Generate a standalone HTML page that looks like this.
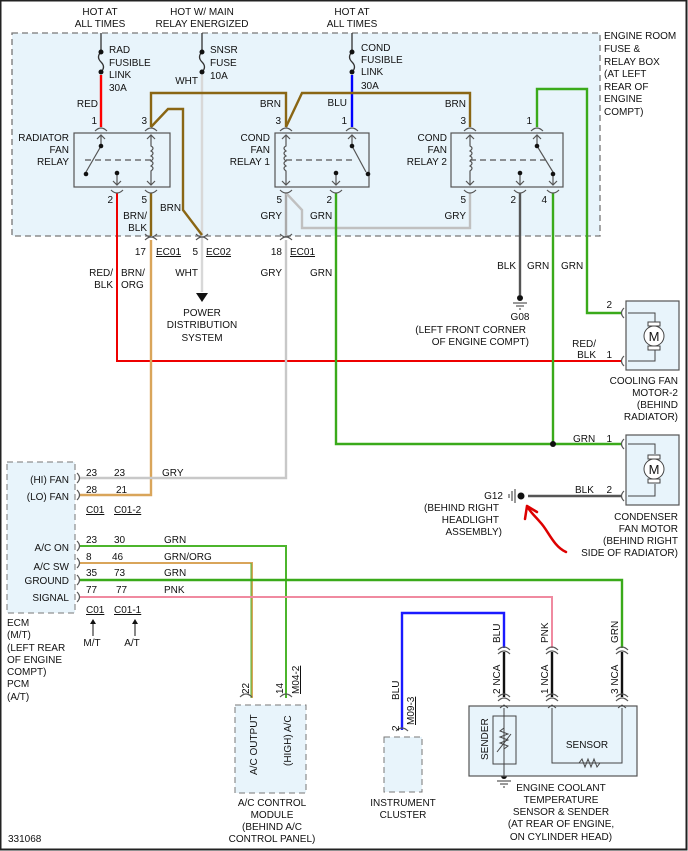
<!DOCTYPE html>
<html><head><meta charset="utf-8"><style>
html,body{margin:0;padding:0;background:#fff}
svg{display:block}
text{font-family:"Liberation Sans",Arial,sans-serif;font-size:10px;fill:#111}
.m{text-anchor:middle}.e{text-anchor:end}
</style></head><body>
<svg width="688" height="851" viewBox="0 0 688 851" xmlns="http://www.w3.org/2000/svg">
<rect x="0.5" y="0.5" width="686" height="849" fill="#fff" stroke="#222" stroke-width="2"/>
<!-- fuse box -->
<rect x="12" y="33" width="588" height="203" fill="#e8f4fb" stroke="#777" stroke-width="1.3" stroke-dasharray="6,4"/>
<g fill="none" stroke-width="2.4">
<!-- red -->
<path d="M101 75V127" stroke="#f00"/>
<path d="M117 193V361H622" stroke="#e00" stroke-width="2"/>
<!-- fuse lines -->
<path d="M101 33V52M101 52q-5 5 0 10q5 5 0 10" stroke="#333" stroke-width="1.3"/>
<path d="M202 33V52M202 52q-5 5 0 10q5 5 0 10" stroke="#333" stroke-width="1.3"/>
<path d="M352 33V52M352 52q-5 5 0 10q5 5 0 10" stroke="#333" stroke-width="1.3"/>
<!-- WHT -->
<path d="M202 75V292" stroke="#d8d8d8"/>
<!-- BLU -->
<path d="M352 75V127" stroke="#00f"/>
<!-- brown -->
<path d="M151 127V93H286V127" stroke="#8a6614"/>
<path d="M286 127L302 93H470V127" stroke="#8a6614"/>
<path d="M151 127L168 109H183V210L202 235" stroke="#8a6614"/>
<path d="M151 193V236" stroke="#8a6614"/>
<path d="M151 240V495H80" stroke="#d9a55a"/>
<!-- gray -->
<path d="M286 193V236" stroke="#aaa"/>
<path d="M286 240V478H80" stroke="#c8c8c8"/>
<path d="M286 193L302 210V228H470V193" stroke="#c0c0c0"/>
<!-- green -->
<path d="M336 193V444H622" stroke="#3aaa1a"/>
<path d="M537 127V89H587V313H622" stroke="#3aaa1a"/>
<path d="M553 193V444" stroke="#3aaa1a"/>
<path d="M80 546H286V698" stroke="#4cb52c" stroke-width="2"/>
<path d="M80 563H252V698" stroke="#d9a55a" stroke-width="2"/>
<path d="M251 563V698" stroke="#4cb52c" stroke-width="1"/>
<path d="M80 580H622V648" stroke="#3aaa1a"/>
<path d="M80 597H552V648" stroke="#f08aa0" stroke-width="2"/>
<!-- black -->
<path d="M520 193V295" stroke="#555"/>
<path d="M528 496H622" stroke="#555"/>
<!-- blue low -->
<path d="M402 730V613H504V648" stroke="#1a1aff"/>
<path d="M504 652V697M552 652V697M622 652V697" stroke="#111"/>
</g>
<!-- fuse dots -->
<g fill="#111"><circle cx="101" cy="52" r="2.5"/><circle cx="101" cy="72" r="2.5"/><circle cx="202" cy="52" r="2.5"/><circle cx="202" cy="72" r="2.5"/><circle cx="352" cy="52" r="2.5"/><circle cx="352" cy="72" r="2.5"/>
<circle cx="553" cy="444" r="3"/><circle cx="520" cy="298" r="3"/><circle cx="521" cy="496" r="3.5"/><circle cx="504" cy="776" r="3"/></g>
<polygon points="196,293 208,293 202,302" fill="#111"/>
<!-- relays -->
<g fill="none" stroke="#555" stroke-width="1.2">
<rect x="74" y="133" width="96" height="54"/>
<rect x="275" y="133" width="94" height="54"/>
<rect x="451" y="133" width="112" height="54"/>
<path d="M85 160H151M286 160H352M470 160H553" stroke-dasharray="6,4"/>
<!-- coils -->
<path d="M151 135V146q4 2 0 5q4 2 0 5q4 2 0 5q4 2 0 5q4 2 0 5V185"/>
<path d="M286 135V146q-4 2 0 5q-4 2 0 5q-4 2 0 5q-4 2 0 5q-4 2 0 5V185"/>
<path d="M470 135V146q4 2 0 5q4 2 0 5q4 2 0 5q4 2 0 5q4 2 0 5V185"/>
<!-- switches -->
<path d="M101 135V146L86 172M117 173V185M352 135V146L366 172M336 173V185M537 135V146L553 172V185M520 173V185"/>
<!-- arrows -->
<path d="M97 139l4-4 4 4M147 139l4-4 4 4M147 181l4 4 4-4M113 181l4 4 4-4M282 139l4-4 4 4M282 181l4 4 4-4M348 139l4-4 4 4M332 181l4 4 4-4M466 139l4-4 4 4M466 181l4 4 4-4M533 139l4-4 4 4M516 181l4 4 4-4M549 181l4 4 4-4"/>
<!-- connector arcs -->
<path d="M95 131q6-6 12 0M145 131q6-6 12 0M280 131q6-6 12 0M346 131q6-6 12 0M464 131q6-6 12 0M531 131q6-6 12 0
M111 190q6 6 12 0M145 190q6 6 12 0M280 190q6 6 12 0M330 190q6 6 12 0M464 190q6 6 12 0M514 190q6 6 12 0M547 190q6 6 12 0
M145 234q6 6 12 0M196 234q6 6 12 0M280 234q6 6 12 0"/>
<path d="M145 240q6-6 12 0M196 240q6-6 12 0M280 240q6-6 12 0M240 697q6-6 12 0M280 697q6-6 12 0M396 731q6-6 12 0
M498 650q6-6 12 0M546 650q6-6 12 0M616 650q6-6 12 0M498 654q6-6 12 0M546 654q6-6 12 0M616 654q6-6 12 0
M498 697q6-6 12 0M546 697q6-6 12 0M616 697q6-6 12 0M498 701q6-6 12 0M546 701q6-6 12 0M616 701q6-6 12 0"/>
<!-- ECM pin brackets -->
<path d="M77 473q5 5 0 10M77 490q5 5 0 10M77 541q5 5 0 10M77 558q5 5 0 10M77 575q5 5 0 10M77 592q5 5 0 10"/>
<!-- motor pins -->
<path d="M624 308q-5 5 0 10M624 356q-5 5 0 10M624 439q-5 5 0 10M624 491q-5 5 0 10"/>
</g>
<g fill="#111"><circle cx="101" cy="146" r="2.3"/><circle cx="86" cy="174" r="2.3"/><circle cx="117" cy="173" r="2.3"/><circle cx="352" cy="146" r="2.3"/><circle cx="368" cy="174" r="2.3"/><circle cx="336" cy="173" r="2.3"/><circle cx="537" cy="146" r="2.3"/><circle cx="553" cy="174" r="2.3"/><circle cx="520" cy="173" r="2.3"/></g>
<!-- grounds -->
<path d="M513 303h14M516 306h8M519 309h2" stroke="#333" fill="none"/>
<path d="M515 489v14M512 491v10M509 494v4" stroke="#333" fill="none"/>
<path d="M497 781h14M500 784h8M503 787h2" stroke="#333" fill="none"/>
<!-- motors -->
<g fill="#e8f4fb" stroke="#555" stroke-width="1.2">
<rect x="626" y="301" width="53" height="69"/>
<rect x="626" y="435" width="53" height="70"/>
</g>
<g fill="none" stroke="#444" stroke-width="1">
<path d="M628 313H655V323M628 361H655V350M628 444H655V454M628 496H655V484"/>
<circle cx="654" cy="336" r="10" fill="#fff"/><circle cx="654" cy="469" r="10" fill="#fff"/>
<rect x="648" y="322" width="12" height="4" fill="#fff"/><rect x="648" y="346" width="12" height="4" fill="#fff"/>
<rect x="648" y="455" width="12" height="4" fill="#fff"/><rect x="648" y="479" width="12" height="4" fill="#fff"/>
</g>
<text x="654" y="341" class="m" style="font-size:13px">M</text>
<text x="654" y="474" class="m" style="font-size:13px">M</text>
<!-- red hand arrow -->
<path d="M566 552C553 546 548 530 540 522C535 516 530 512 527 506M527 506L525 519M527 506L537 512" fill="none" stroke="#d00" stroke-width="2.5" stroke-linecap="round"/>
<!-- ECM -->
<rect x="7" y="462" width="68" height="151" fill="#e8f4fb" stroke="#777" stroke-dasharray="6,4"/>
<!-- A/C module -->
<rect x="235" y="705" width="71" height="88" fill="#e8f4fb" stroke="#777" stroke-dasharray="6,4"/>
<!-- cluster -->
<rect x="384" y="737" width="38" height="55" fill="#e8f4fb" stroke="#777" stroke-dasharray="6,4"/>
<!-- ECT -->
<rect x="469" y="706" width="168" height="70" fill="#e8f4fb" stroke="#555" stroke-width="1.2"/>
<g fill="none" stroke="#444" stroke-width="1">
<rect x="493" y="716" width="23" height="48"/>
<path d="M504 708V776M552 708V763H622V708M579 763l3-4 3 8 3-8 3 8 3-8 3 8 3-4"/>
<path d="M500 708l4-3 4 3M548 708l4-3 4 3M618 708l4-3 4 3"/>
<path d="M504 728l-4 3 8 3-8 3 8 3-8 3 8 3-4 3M497 752l14-18"/>
</g>
<!-- TEXT -->
<text x="100" y="15" class="m">HOT AT</text><text x="100" y="27" class="m">ALL TIMES</text>
<text x="202" y="15" class="m">HOT W/ MAIN</text><text x="202" y="27" class="m">RELAY ENERGIZED</text>
<text x="352" y="15" class="m">HOT AT</text><text x="352" y="27" class="m">ALL TIMES</text>
<text x="109" y="53">RAD</text><text x="109" y="66">FUSIBLE</text><text x="109" y="78">LINK</text><text x="109" y="91">30A</text>
<text x="210" y="53">SNSR</text><text x="210" y="66">FUSE</text><text x="210" y="79">10A</text><text x="198" y="84" class="e">WHT</text>
<text x="361" y="51">COND</text><text x="361" y="63">FUSIBLE</text><text x="361" y="75">LINK</text><text x="361" y="89">30A</text>
<text x="604" y="39">ENGINE ROOM</text><text x="604" y="52">FUSE &amp;</text><text x="604" y="65">RELAY BOX</text><text x="604" y="77">(AT LEFT</text><text x="604" y="90">REAR OF</text><text x="604" y="102">ENGINE</text><text x="604" y="115">COMPT)</text>
<text x="98" y="107" class="e">RED</text><text x="97" y="124" class="e">1</text><text x="147" y="124" class="e">3</text>
<text x="281" y="107" class="e">BRN</text><text x="281" y="124" class="e">3</text>
<text x="347" y="106" class="e">BLU</text><text x="347" y="124" class="e">1</text>
<text x="466" y="107" class="e">BRN</text><text x="466" y="124" class="e">3</text><text x="532" y="124" class="e">1</text>
<text x="69" y="141" class="e">RADIATOR</text><text x="69" y="153" class="e">FAN</text><text x="69" y="165" class="e">RELAY</text>
<text x="270" y="141" class="e">COND</text><text x="270" y="153" class="e">FAN</text><text x="270" y="165" class="e">RELAY 1</text>
<text x="447" y="141" class="e">COND</text><text x="447" y="153" class="e">FAN</text><text x="447" y="165" class="e">RELAY 2</text>
<text x="113" y="203" class="e">2</text><text x="147" y="203" class="e">5</text><text x="282" y="203" class="e">5</text><text x="332" y="203" class="e">2</text>
<text x="466" y="203" class="e">5</text><text x="516" y="203" class="e">2</text><text x="547" y="203" class="e">4</text>
<text x="147" y="219" class="e">BRN/</text><text x="147" y="231" class="e">BLK</text><text x="160" y="211">BRN</text>
<text x="282" y="219" class="e">GRY</text><text x="310" y="219">GRN</text><text x="466" y="219" class="e">GRY</text>
<text x="146" y="255" class="e">17</text><text x="156" y="255" style="text-decoration:underline">EC01</text>
<text x="198" y="255" class="e">5</text><text x="206" y="255" style="text-decoration:underline">EC02</text>
<text x="282" y="255" class="e">18</text><text x="290" y="255" style="text-decoration:underline">EC01</text>
<text x="113" y="276" class="e">RED/</text><text x="113" y="288" class="e">BLK</text>
<text x="121" y="276">BRN/</text><text x="121" y="288">ORG</text>
<text x="198" y="276" class="e">WHT</text><text x="282" y="276" class="e">GRY</text><text x="310" y="276">GRN</text>
<text x="516" y="269" class="e">BLK</text><text x="527" y="269">GRN</text><text x="561" y="269">GRN</text>
<text x="202" y="316" class="m">POWER</text><text x="202" y="328" class="m">DISTRIBUTION</text><text x="202" y="341" class="m">SYSTEM</text>
<text x="520" y="320" class="m">G08</text><text x="526" y="333" class="e">(LEFT FRONT CORNER</text><text x="529" y="345" class="e">OF ENGINE COMPT)</text>
<text x="612" y="308" class="e">2</text><text x="596" y="347" class="e">RED/</text><text x="596" y="358" class="e">BLK</text><text x="612" y="358" class="e">1</text>
<text x="678" y="384" class="e">COOLING FAN</text><text x="678" y="396" class="e">MOTOR-2</text><text x="678" y="408" class="e">(BEHIND</text><text x="678" y="420" class="e">RADIATOR)</text>
<text x="573" y="442">GRN</text><text x="612" y="442" class="e">1</text>
<text x="575" y="493">BLK</text><text x="612" y="493" class="e">2</text>
<text x="503" y="499" class="e">G12</text><text x="499" y="511" class="e">(BEHIND RIGHT</text><text x="499" y="523" class="e">HEADLIGHT</text><text x="502" y="535" class="e">ASSEMBLY)</text>
<text x="678" y="520" class="e">CONDENSER</text><text x="678" y="532" class="e">FAN MOTOR</text><text x="678" y="544" class="e">(BEHIND RIGHT</text><text x="678" y="556" class="e">SIDE OF RADIATOR)</text>
<text x="69" y="483" class="e">(HI) FAN</text><text x="69" y="500" class="e">(LO) FAN</text>
<text x="69" y="551" class="e">A/C ON</text><text x="69" y="570" class="e">A/C SW</text><text x="69" y="584" class="e">GROUND</text><text x="69" y="601" class="e">SIGNAL</text>
<text x="86" y="476">23</text><text x="114" y="476">23</text><text x="162" y="476">GRY</text>
<text x="86" y="493">28</text><text x="116" y="493">21</text>
<text x="86" y="513" style="text-decoration:underline">C01</text><text x="114" y="513" style="text-decoration:underline">C01-2</text>
<text x="86" y="543">23</text><text x="114" y="543">30</text><text x="164" y="543">GRN</text>
<text x="86" y="560">8</text><text x="112" y="560">46</text><text x="164" y="560">GRN/ORG</text>
<text x="86" y="576">35</text><text x="114" y="576">73</text><text x="164" y="576">GRN</text>
<text x="86" y="593">77</text><text x="116" y="593">77</text><text x="164" y="593">PNK</text>
<text x="86" y="613" style="text-decoration:underline">C01</text><text x="114" y="613" style="text-decoration:underline">C01-1</text>
<path d="M93 636V620M135 636V620" stroke="#111"/><path d="M90 624l3-5 3 5zM132 624l3-5 3 5z" fill="#111"/>
<text x="92" y="646" class="m">M/T</text><text x="132" y="646" class="m">A/T</text>
<text x="7" y="626">ECM</text><text x="7" y="638">(M/T)</text><text x="7" y="651">(LEFT REAR</text><text x="7" y="663">OF ENGINE</text><text x="7" y="675">COMPT)</text><text x="7" y="687">PCM</text><text x="7" y="700">(A/T)</text>
<text transform="translate(249,694) rotate(-90)">22</text><text transform="translate(283,694) rotate(-90)">14</text>
<text transform="translate(299,694) rotate(-90)" style="text-decoration:underline">M04-2</text>
<text transform="translate(257,775) rotate(-90)">A/C OUTPUT</text><text transform="translate(291,766) rotate(-90)">(HIGH) A/C</text>
<text x="272" y="806" class="m">A/C CONTROL</text><text x="272" y="818" class="m">MODULE</text><text x="272" y="830" class="m">(BEHIND A/C</text><text x="272" y="842" class="m">CONTROL PANEL)</text>
<text x="8" y="842">331068</text>
<text transform="translate(399,700) rotate(-90)">BLU</text><text transform="translate(399,731) rotate(-90)">2</text>
<text transform="translate(414,725) rotate(-90)" style="text-decoration:underline">M09-3</text>
<text x="403" y="806" class="m">INSTRUMENT</text><text x="403" y="818" class="m">CLUSTER</text>
<text transform="translate(500,643) rotate(-90)">BLU</text><text transform="translate(548,643) rotate(-90)">PNK</text><text transform="translate(618,643) rotate(-90)">GRN</text>
<text transform="translate(500,694) rotate(-90)">2 NCA</text><text transform="translate(548,694) rotate(-90)">1 NCA</text><text transform="translate(618,694) rotate(-90)">3 NCA</text>
<text transform="translate(488,760) rotate(-90)">SENDER</text>
<text x="587" y="748" class="m">SENSOR</text>
<text x="561" y="791" class="m">ENGINE COOLANT</text><text x="561" y="803" class="m">TEMPERATURE</text><text x="561" y="815" class="m">SENSOR &amp; SENDER</text><text x="561" y="827" class="m">(AT REAR OF ENGINE,</text><text x="561" y="840" class="m">ON CYLINDER HEAD)</text>
</svg>
</body></html>
